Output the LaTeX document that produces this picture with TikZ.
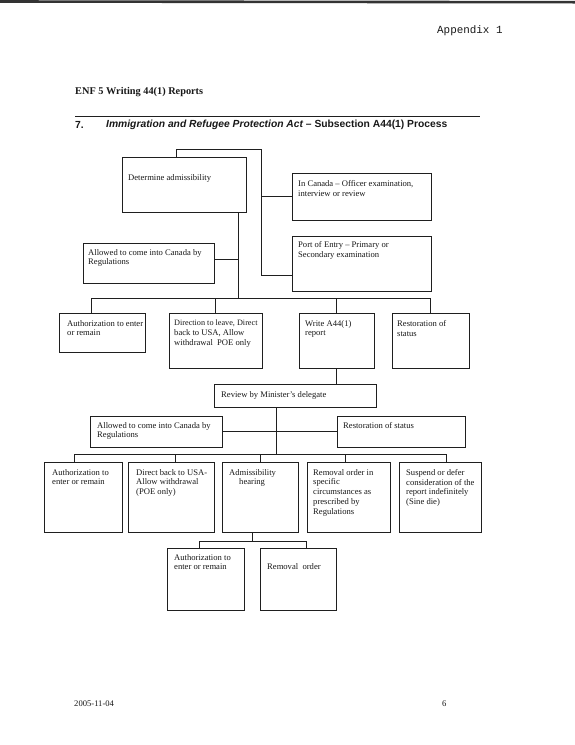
\documentclass[tikz,border=0pt]{standalone}
\usepackage{fontspec}
\setmainfont{Liberation Serif}
\newfontfamily\headsans{Liberation Sans}
\newfontfamily\monof{Liberation Mono}
\definecolor{linec}{gray}{0.12}
\definecolor{textc}{gray}{0.1}
\newcommand\flowbox[5]{\node[box, minimum width={#4-#2}, minimum height={#5-#3}] (#1) at (#2,#3) {};}
\newcommand\boxtext[4]{\node[txt] (#1-t) at ([shift={(#2,#3)}]#1.north west) {#4};}
\begin{document}
\begin{tikzpicture}[x=1pt,y=-1pt,
  box/.style={draw=linec, line width=0.85pt, rectangle, inner sep=0pt, outer sep=0pt, anchor=north west},
  txt/.style={anchor=north west, inner sep=0pt, align=left, font=\fontsize{8.6}{9.8}\selectfont, text=textc},
  conn/.style={draw=linec, line width=0.85pt},
  hdr/.style={anchor=west, inner sep=0pt, text=textc}]
\fill[white] (0,0) rectangle (575,745);
\useasboundingbox (0,0) rectangle (575,745);
% scan edge at top
\draw[line width=2.6pt, black!80] (0,1.5) -- (575,2.2);

% header
\node[hdr, font=\monof\fontsize{10.9}{12}\selectfont] (app) at (437,31) {Appendix 1};
\node[hdr, font=\bfseries\fontsize{10.3}{12}\selectfont] (enf) at (75,92) {ENF 5 Writing 44(1) Reports};
\coordinate (r1) at (75,116);
\coordinate (r2) at (480,116);
\draw[line width=0.6pt, linec] (r1) -- (r2);
\node[hdr, font=\headsans\bfseries\fontsize{10.3}{12}\selectfont] (num) at (75,125) {7.};
\node[hdr, font=\headsans\bfseries\fontsize{10.3}{12}\selectfont] (head) at (106,125) {\itshape Immigration and Refugee Protection Act\upshape{} – Subsection A44(1) Process};

% boxes
\flowbox{det}{122}{157}{246}{212}
\boxtext{det}{6}{17}{Determine admissibility}
\flowbox{incan}{292}{173}{431}{220}
\boxtext{incan}{6}{7}{In Canada – Officer examination,\\interview or review}
\flowbox{port}{292}{236}{431}{291}
\boxtext{port}{6}{5}{Port of Entry – Primary or\\Secondary examination}
\flowbox{allowA}{83}{243}{214}{283}
\boxtext{allowA}{5}{6}{Allowed to come into Canada by\\Regulations}

\flowbox{authB}{59}{313}{145}{352}
\boxtext{authB}{8}{7}{Authorization to enter\\or remain}
\flowbox{dirB}{169}{313}{262}{368}
\boxtext{dirB}{5}{7}{\fontsize{8.2}{9.8}\selectfont Direction to leave, Direct\\back to USA, Allow\\withdrawal\ \ POE only}
\flowbox{writeB}{299}{313}{374}{368}
\boxtext{writeB}{6}{7}{Write A44(1)\\report}
\flowbox{restB}{392}{313}{469}{368}
\boxtext{restB}{5}{7}{Restoration of\\status}

\flowbox{review}{214}{384}{376}{407}
\boxtext{review}{7}{7}{Review by Minister’s delegate}

\flowbox{allowC}{90}{416}{222}{447}
\boxtext{allowC}{7}{6}{Allowed to come into Canada by\\Regulations}
\flowbox{restC}{337}{416}{465}{447}
\boxtext{restC}{6}{6}{Restoration of status}

\flowbox{authD}{44}{462}{122}{532}
\boxtext{authD}{8}{7}{Authorization to\\enter or remain}
\flowbox{dirD}{128}{462}{214}{532}
\boxtext{dirD}{8}{7}{Direct back to USA-\\Allow withdrawal\\(POE only)}
\flowbox{admD}{222}{462}{298}{532}
\boxtext{admD}{7}{7}{Admissibility\\\hspace*{10pt}hearing}
\flowbox{remD}{307}{462}{390}{532}
\boxtext{remD}{6}{7}{Removal order in\\specific\\circumstances as\\prescribed by\\Regulations}
\flowbox{susD}{399}{462}{481}{532}
\boxtext{susD}{7}{7}{Suspend or defer\\consideration of the\\report indefinitely\\(Sine die)}

\flowbox{authE}{167}{548}{244}{610}
\boxtext{authE}{7}{6}{Authorization to\\enter or remain}
\flowbox{remE}{260}{548}{336}{610}
\boxtext{remE}{7}{15}{Removal\ \ order}

% connectors, top part
\coordinate (c1) at (176,149);
\coordinate (c2) at (261,149);
\coordinate (c4) at (261,275);
\draw[conn] (det.north -| c1) -- (c1) -- (c2) -- (c4) -- (port.west |- c4);
\draw[conn] (c2 |- incan.west) -- (incan.west);
\coordinate (c5) at (238,259);
\coordinate (c6) at (238,298);
\draw[conn] (det.south -| c5) -- (c6);
\draw[conn] (allowA.east |- c5) -- (c5);
\coordinate (b1) at (91,298);
\draw[conn] (authB.north -| b1) -- (b1) -- (restB.north |- b1) -- (restB.north);
\draw[conn] (dirB.north |- b1) -- (dirB.north);
\draw[conn] (writeB.north |- b1) -- (writeB.north);
\draw[conn] (writeB.south) -- (writeB.south |- review.north);

% connectors, middle part
\coordinate (c7) at (276,431);
\coordinate (c8) at (276,454);
\draw[conn] (review.south -| c7) -- (c8);
\draw[conn] (allowC.east |- c7) -- (restC.west |- c7);
\coordinate (d1) at (74,454);
\coordinate (d2) at (175,454);
\coordinate (d4) at (345,454);
\coordinate (d5) at (446,454);
\draw[conn] (authD.north -| d1) -- (d1) -- (d5) -- (susD.north -| d5);
\draw[conn] (d2) -- (dirD.north -| d2);
\draw[conn] (admD.north |- d1) -- (admD.north);
\draw[conn] (d4) -- (remD.north -| d4);

% connectors, bottom part
\coordinate (e0) at (252,541);
\coordinate (e1) at (199,541);
\coordinate (e2) at (306,541);
\draw[conn] (admD.south -| e0) -- (e0);
\draw[conn] (authE.north -| e1) -- (e1) -- (e2) -- (remE.north -| e2);

% footer
\node[hdr, font=\fontsize{8.6}{10}\selectfont] (date) at (74,704) {2005-11-04};
\node[hdr, font=\fontsize{8.6}{10}\selectfont] (page) at (442,704) {6};
\end{tikzpicture}
\end{document}
